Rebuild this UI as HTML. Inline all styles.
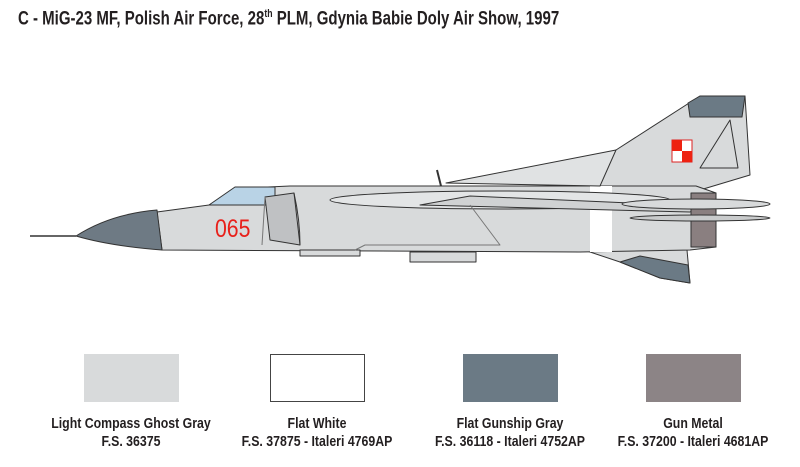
<!DOCTYPE html>
<html><head><meta charset="utf-8"><style>
body{margin:0;background:#fff;width:800px;height:467px;overflow:hidden;position:relative;font-family:"Liberation Sans",sans-serif;}
.t{position:absolute;left:18px;top:8px;font-weight:bold;font-size:19px;color:#231f20;white-space:nowrap;transform:scaleX(0.79);transform-origin:0 0;}
.t sup{font-size:11px;}
.sw{position:absolute;top:354px;width:95px;height:48px;box-sizing:border-box;}
.l{position:absolute;top:415px;width:260px;text-align:center;font-weight:bold;font-size:14.5px;line-height:18px;color:#231f20;transform:scaleX(0.85);}
</style></head><body>
<div class="t">C - MiG-23 MF, Polish Air Force, 28<sup>th</sup> PLM, Gdynia Babie Doly Air Show, 1997</div>
<svg width="800" height="467" style="position:absolute;left:0;top:0" xmlns="http://www.w3.org/2000/svg">
<g stroke="#333" stroke-width="1" stroke-linejoin="round">
<polygon points="584,250 687,250 690,283 660,278 620,262" fill="#d8dadb"/>
<polygon points="620,262 660,278 690,283 688,265 640,256" fill="#6b7a85"/>
<polygon points="560,185 616,150 700,96 745,96 750,175 700,190" fill="#d8dadb"/>
<polygon points="688,103 700,96 745,96 742,117 690,117" fill="#6b7a85"/>
<polygon points="700,168 730,120 738,168" fill="none"/>
<path d="M157,212 L209,205 L245,188 L290,186 L696,186 L716,193 L716,247 L690,250 L580,252 L162,250 Z" fill="#d8dadb"/>
<rect x="590" y="186" width="22" height="66" fill="#fff" stroke="none"/>
<polygon points="209,205 235,187 275,187 275,205" fill="#b9d3e6"/>
<path d="M76,236 Q110,214 157,210 L162,250 Q110,246 76,236 Z" fill="#6e7a84"/>
<line x1="30" y1="236" x2="76" y2="236" stroke-width="1.5"/>
<path d="M265,197 L294,193 L300,245 L270,240 Z" fill="#bfc1c3"/>
<path d="M294,193 Q300,220 300,245" fill="none"/>
<ellipse cx="500" cy="200" rx="170" ry="9" fill="#e3e5e6"/>
<polygon points="446,183 616,150 600,186" fill="#e0e2e3"/>
<path d="M420,205 L690,212 L700,206 L470,196 Z" fill="#d0d2d3"/>
<rect x="691" y="193" width="25" height="54" fill="#8a7f80"/>
<ellipse cx="696" cy="204" rx="74" ry="5" fill="#d8dadb"/>
<ellipse cx="700" cy="218" rx="70" ry="3" fill="#c9cbcc"/>
<line x1="441" y1="186" x2="437" y2="170" stroke-width="2"/>
<rect x="410" y="252" width="66" height="10" fill="#d8dadb"/>
<rect x="300" y="250" width="60" height="6" fill="#d8dadb"/>
<path d="M355,250 L365,245 L500,245 L470,205" fill="none" stroke="#777"/>
<line x1="262" y1="245" x2="265" y2="197" stroke="#777"/>
</g>
<rect x="672" y="140" width="20" height="22" fill="#fff" stroke="#d22" stroke-width="1"/>
<rect x="672" y="140" width="10" height="11" fill="#e21"/>
<rect x="682" y="151" width="10" height="11" fill="#e21"/>
<text x="215" y="237" font-family="Liberation Sans,sans-serif" font-size="25" fill="#e8201a" transform="translate(215 0) scale(0.85 1) translate(-215 0)">065</text>
</svg>
<div class="sw" style="left:84px;background:#d8dadb"></div>
<div class="sw" style="left:270px;background:#fff;border:1px solid #444"></div>
<div class="sw" style="left:463px;background:#6b7a85"></div>
<div class="sw" style="left:646px;background:#8c8486"></div>
<div class="l" style="left:1px">Light Compass Ghost Gray<br>F.S. 36375</div>
<div class="l" style="left:187px">Flat White<br>F.S. 37875 - Italeri 4769AP</div>
<div class="l" style="left:380px">Flat Gunship Gray<br>F.S. 36118 - Italeri 4752AP</div>
<div class="l" style="left:563px">Gun Metal<br>F.S. 37200 - Italeri 4681AP</div>
</body></html>
